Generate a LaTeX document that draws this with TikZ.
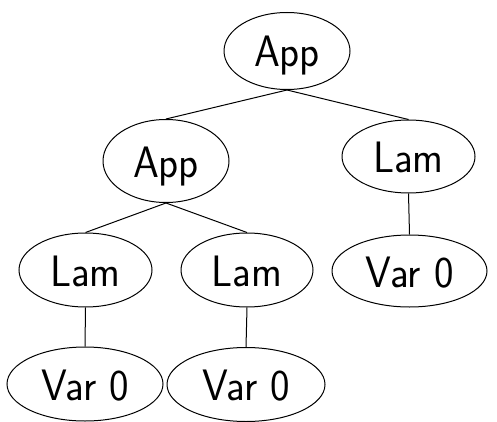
\documentclass[tikz,border=0pt]{standalone}
\usetikzlibrary{shapes.geometric}
\newcommand{\lbl}[1]{\scalebox{0.94}[1]{\sffamily\fontsize{44}{52}\selectfont #1}}
\begin{document}
\begin{tikzpicture}[x=1pt,y=-1pt,
  tnode/.style={draw,ellipse,line width=1pt,inner sep=0pt,text height=32pt,text depth=0pt},
  edge/.style={line width=1pt}]
\useasboundingbox (0,0) rectangle (497,422);
\node[tnode,minimum width=126pt,minimum height=77pt] (root) at (287,51) {\lbl{App}};
\node[tnode,minimum width=126pt,minimum height=83pt] (app) at (166,161) {\lbl{App}};
\node[tnode,minimum width=133pt,minimum height=73pt] (lamR) at (408.5,156.5) {\lbl{Lam}};
\node[tnode,minimum width=133pt,minimum height=74pt] (lamL) at (85.5,270) {\lbl{Lam}};
\node[tnode,minimum width=132pt,minimum height=74pt] (lamM) at (247,270) {\lbl{Lam}};
\node[tnode,minimum width=155pt,minimum height=72pt] (varR) at (409.5,271) {\lbl{Var 0}};
\node[tnode,minimum width=156pt,minimum height=74pt] (varL) at (85,384) {\lbl{Var 0}};
\node[tnode,minimum width=158pt,minimum height=74pt] (varM) at (246,384.5) {\lbl{Var 0}};
\draw[edge] (root.south) -- (app.north);
\draw[edge] (root.south) -- (lamR.north);
\draw[edge] (app.south) -- (lamL.north);
\draw[edge] (app.south) -- (lamM.north);
\draw[edge] (lamR.south) -- (varR.north);
\draw[edge] (lamL.south) -- (varL.north);
\draw[edge] (lamM.south) -- (varM.north);
\end{tikzpicture}
\end{document}
